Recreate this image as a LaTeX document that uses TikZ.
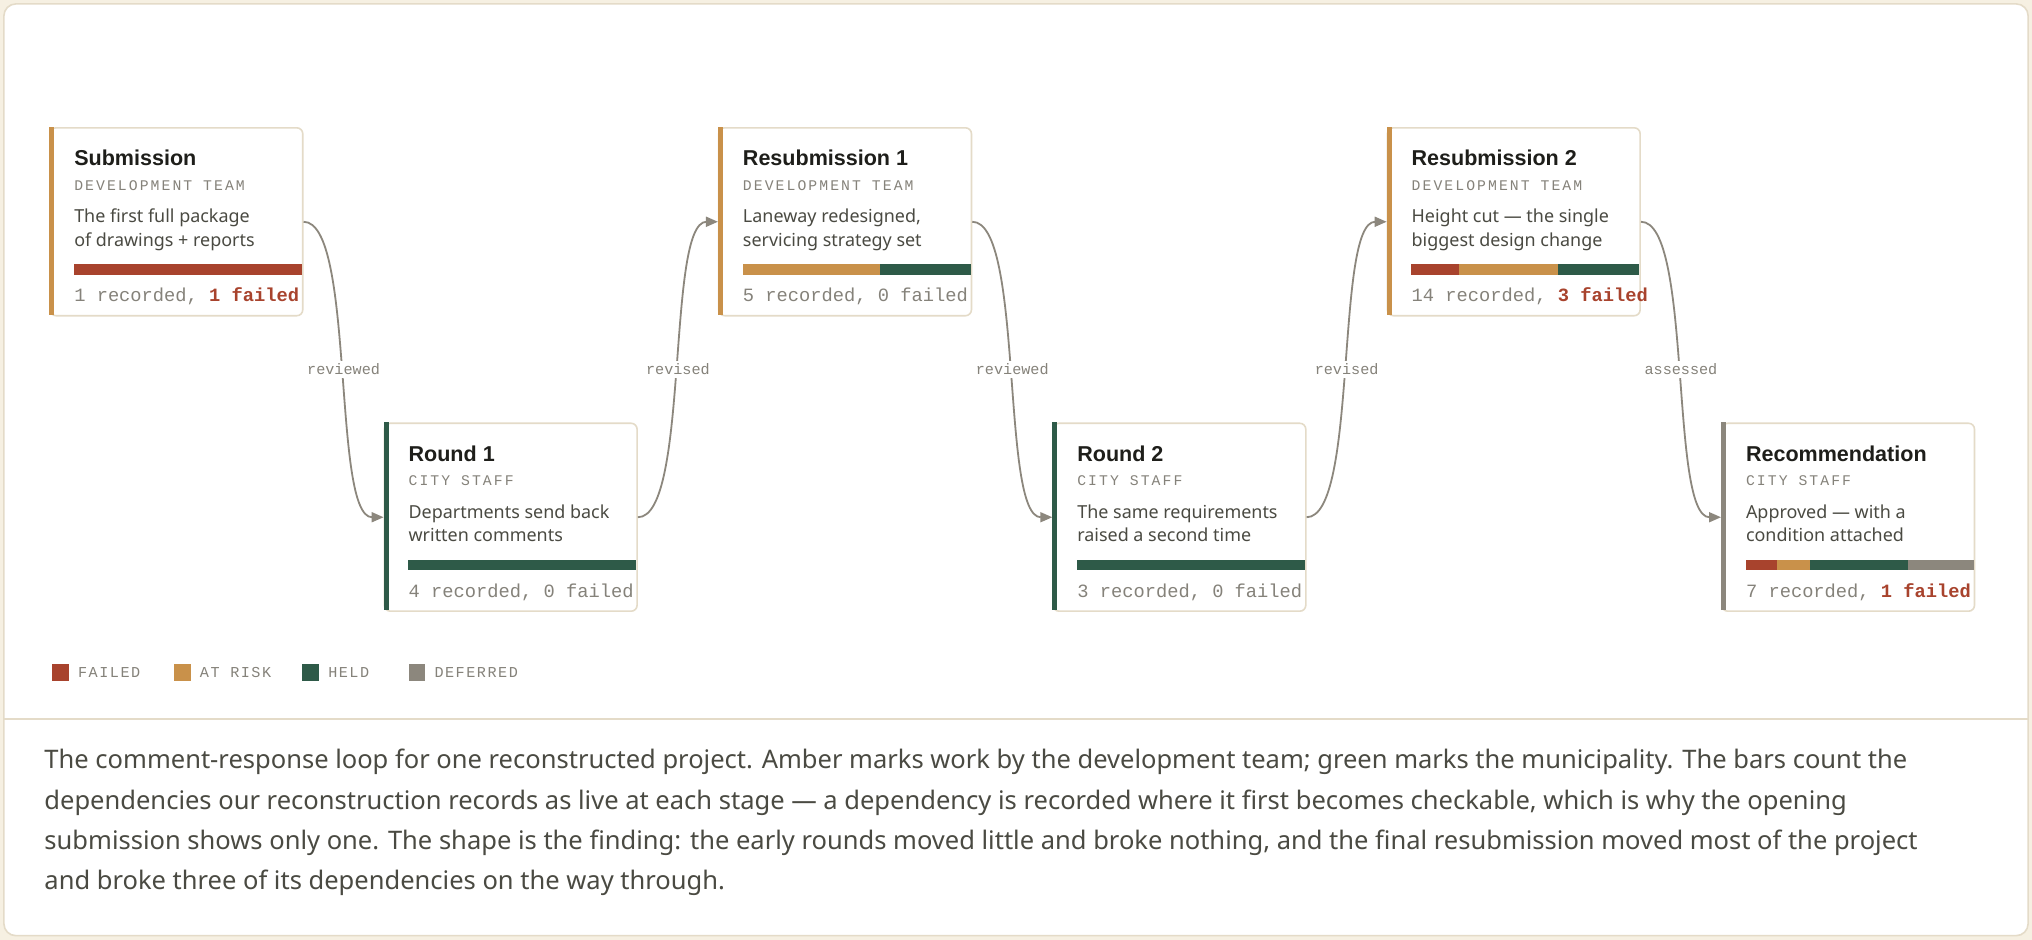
\documentclass[tikz,border=0pt]{standalone}
\usepackage{fontspec}
\setmainfont{Noto Sans}
\setmonofont{Liberation Mono}
\newfontfamily\headfont{Liberation Sans}
\usetikzlibrary{arrows.meta}
\definecolor{cream}{HTML}{F6F0E2}
\definecolor{edgecream}{HTML}{E4DBC8}
\definecolor{failred}{HTML}{A8432D}
\definecolor{amber}{HTML}{C9914A}
\definecolor{heldgreen}{HTML}{2E5A48}
\definecolor{defgray}{HTML}{8C877D}
\definecolor{ink}{HTML}{1E1E1A}
\definecolor{body}{HTML}{4A4A42}
\definecolor{muted}{HTML}{85827A}
\tikzset{
    card/.style={
        draw=edgecream,
        line width=0.8pt,
        fill=white,
        rounded corners=3pt,
        minimum width=195*0.65pt,
        minimum height=145*0.65pt,
        inner sep=0pt,
        anchor=north west
    },
    title/.style={anchor=base west, inner sep=0pt, text=ink, font=\headfont\fontsize{10.8}{12}\selectfont\bfseries},
    role/.style={anchor=base west, inner sep=0pt, text=muted, font=\ttfamily\fontsize{7.4}{9}\selectfont\addfontfeature{LetterSpace=14}},
    desc/.style={anchor=base west, inner sep=0pt, text=body, font=\fontsize{9}{11.5}\selectfont, align=left},
    foot/.style={anchor=base west, inner sep=0pt, text=muted, font=\ttfamily\fontsize{9.4}{11}\selectfont},
    link/.style={draw=defgray, line width=0.9pt, -{Triangle[length=6pt, width=5pt]}},
    linklabel/.style={fill=white, inner sep=1.5pt, text=muted, font=\ttfamily\fontsize{7.6}{9}\selectfont},
    swatch/.style={minimum size=13*0.65pt, inner sep=0pt, anchor=west},
    legend/.style={anchor=west, inner sep=0pt, text=muted, font=\ttfamily\fontsize{7.6}{9}\selectfont\addfontfeature{LetterSpace=10}}
}
\begin{document}
\begin{tikzpicture}[x=0.65pt, y=-0.65pt]
  % Frame
  \fill[cream] (0,0) rectangle (1568,725);
  \useasboundingbox (0,0) rectangle (1568,725);
  \draw[edgecream, fill=white, line width=0.8pt, rounded corners=6pt] (3,3) rectangle (1565,722);
  \draw[edgecream, line width=0.8pt] (3,555) -- (1565,555);

  % Cards
  \node[card] (sub) at (38,98) {};
  \node[card] (rd1) at (296,326) {};
  \node[card] (res1) at (554,98) {};
  \node[card] (rd2) at (812,326) {};
  \node[card] (res2) at (1070,98) {};
  \node[card] (rec) at (1328,326) {};

  % Accent bars
  \fill[amber] (38,98) rectangle (42,243);
  \fill[heldgreen] (296,326) rectangle (300,471);
  \fill[amber] (554,98) rectangle (558,243);
  \fill[heldgreen] (812,326) rectangle (816,471);
  \fill[amber] (1070,98) rectangle (1074,243);
  \fill[defgray] (1328,326) rectangle (1332,471);

  % Submission
  \node[title] (subT) at (57,128) {Submission};
  \node[role] (subR) at (57,147) {DEVELOPMENT TEAM};
  \node[desc] (subD) at (57,172) {The first full package};
  \node[desc] (subE) at (57,190) {of drawings + reports};
  \fill[failred] (57,204) rectangle (233,212);
  \node[foot] (subF) at (57,233) {1 recorded, {\color{failred}\bfseries 1 failed}};

  % Round 1
  \node[title] (rd1T) at (315,356) {Round 1};
  \node[role] (rd1R) at (315,375) {CITY STAFF};
  \node[desc] (rd1D) at (315,400) {Departments send back};
  \node[desc] (rd1E) at (315,418) {written comments};
  \fill[heldgreen] (315,432) rectangle (491,440);
  \node[foot] (rd1F) at (315,461) {4 recorded, 0 failed};

  % Resubmission 1
  \node[title] (res1T) at (573,128) {Resubmission 1};
  \node[role] (res1R) at (573,147) {DEVELOPMENT TEAM};
  \node[desc] (res1D) at (573,172) {Laneway redesigned,};
  \node[desc] (res1E) at (573,190) {servicing strategy set};
  \fill[amber] (573,204) rectangle (679,212);
  \fill[heldgreen] (679,204) rectangle (749,212);
  \node[foot] (res1F) at (573,233) {5 recorded, 0 failed};

  % Round 2
  \node[title] (rd2T) at (831,356) {Round 2};
  \node[role] (rd2R) at (831,375) {CITY STAFF};
  \node[desc] (rd2D) at (831,400) {The same requirements};
  \node[desc] (rd2E) at (831,418) {raised a second time};
  \fill[heldgreen] (831,432) rectangle (1007,440);
  \node[foot] (rd2F) at (831,461) {3 recorded, 0 failed};

  % Resubmission 2
  \node[title] (res2T) at (1089,128) {Resubmission 2};
  \node[role] (res2R) at (1089,147) {DEVELOPMENT TEAM};
  \node[desc] (res2D) at (1089,172) {Height cut — the single};
  \node[desc] (res2E) at (1089,190) {biggest design change};
  \fill[failred] (1089,204) rectangle (1126,212);
  \fill[amber] (1126,204) rectangle (1202,212);
  \fill[heldgreen] (1202,204) rectangle (1265,212);
  \node[foot] (res2F) at (1089,233) {14 recorded, {\color{failred}\bfseries 3 failed}};

  % Recommendation
  \node[title] (recT) at (1347,356) {Recommendation};
  \node[role] (recR) at (1347,375) {CITY STAFF};
  \node[desc] (recD) at (1347,400) {Approved — with a};
  \node[desc] (recE) at (1347,418) {condition attached};
  \fill[failred] (1347,432) rectangle (1371,440);
  \fill[amber] (1371,432) rectangle (1397,440);
  \fill[heldgreen] (1397,432) rectangle (1472,440);
  \fill[defgray] (1472,432) rectangle (1523,440);
  \node[foot] (recF) at (1347,461) {7 recorded, {\color{failred}\bfseries 1 failed}};

  % Connectors
  \draw[link] (sub.east) .. controls +(40,0) and +(-40,0) .. node[linklabel, pos=0.5] {reviewed} (rd1.west);
  \draw[link] (rd1.east) .. controls +(40,0) and +(-40,0) .. node[linklabel, pos=0.5] {revised} (res1.west);
  \draw[link] (res1.east) .. controls +(40,0) and +(-40,0) .. node[linklabel, pos=0.5] {reviewed} (rd2.west);
  \draw[link] (rd2.east) .. controls +(40,0) and +(-40,0) .. node[linklabel, pos=0.5] {revised} (res2.west);
  \draw[link] (res2.east) .. controls +(40,0) and +(-40,0) .. node[linklabel, pos=0.5] {assessed} (rec.west);

  % Legend
  \node[swatch, fill=failred] (kF) at (40,519) {};
  \node[legend] (kFl) at (60,519) {FAILED};
  \node[swatch, fill=amber] (kA) at (134,519) {};
  \node[legend] (kAl) at (154,519) {AT RISK};
  \node[swatch, fill=heldgreen] (kH) at (233,519) {};
  \node[legend] (kHl) at (253,519) {HELD};
  \node[swatch, fill=defgray] (kD) at (315,519) {};
  \node[legend] (kDl) at (335,519) {DEFERRED};

  % Caption
  \node[anchor=north west, inner sep=0pt, text=body, font=\fontsize{12.8}{20.2}\selectfont, align=left] (cap) at (34,578)
    {The comment-response loop for one reconstructed project. Amber marks work by the development team; green marks the municipality. The bars count the\\
     dependencies our reconstruction records as live at each stage — a dependency is recorded where it first becomes checkable, which is why the opening\\
     submission shows only one. The shape is the finding: the early rounds moved little and broke nothing, and the final resubmission moved most of the project\\
     and broke three of its dependencies on the way through.};
\end{tikzpicture}
\end{document}
